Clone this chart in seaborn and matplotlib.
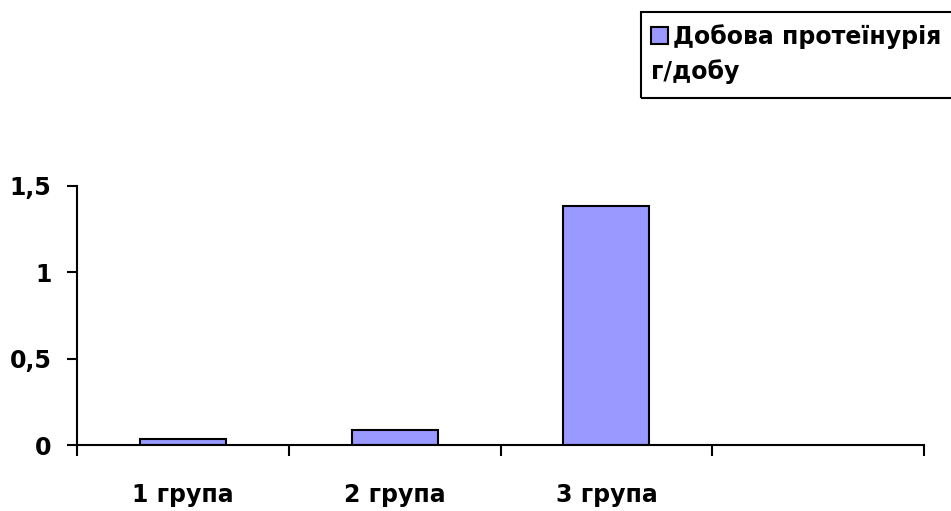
import matplotlib
matplotlib.use("Agg")
import matplotlib.pyplot as plt
from matplotlib.patches import Rectangle
import seaborn as sns
import pandas as pd

groups = ["1 група", "2 група", "3 група"]
proteinuria = [0.036, 0.087, 1.38]
series_first_line = "Добова протеїнурія"
series_second_line = "г/добу"
y_ticks = [0, 0.5, 1, 1.5]
y_tick_labels = ["0", "0,5", "1", "1,5"]

sns.set_theme(style="white")
plt.rcParams["font.family"] = ["DejaVu Sans"]
plt.rcParams["font.weight"] = "bold"
plt.rcParams["text.color"] = "black"
plt.rcParams["xtick.color"] = "black"
plt.rcParams["ytick.color"] = "black"

W, H = 951, 511
FS = 17

df = pd.DataFrame({"group": groups, "value": proteinuria,
                   "series": series_first_line})

fig = plt.figure(figsize=(W / 100, H / 100), dpi=100)
ax = fig.add_axes([77 / W, 1 - 445 / H, (924 - 77) / W, (445 - 185.7) / H])

sns.barplot(data=df, x="group", y="value", hue="series", order=groups,
            palette=["#9999FF"], saturation=1, edgecolor="black",
            linewidth=1.5, width=0.405, dodge=False, ax=ax, legend=True)

ax.set_xlim(-0.5, 3.5)
ax.set_ylim(0, 1.5)
ax.set_xlabel("")
ax.set_ylabel("")

# category labels centred in their slots, tick marks between slots
ax.set_xticks(range(len(groups)))
ax.set_xticklabels(groups, fontsize=FS, fontweight="bold", color="black")
ax.set_xticks([-0.5, 0.5, 1.5, 2.5, 3.5], minor=True)
ax.tick_params(axis="x", which="major", length=0, pad=27)
ax.tick_params(axis="x", which="minor", length=8, width=1.5,
               direction="out", color="black", bottom=True)

ax.set_yticks(y_ticks)
ax.set_yticklabels(y_tick_labels, fontsize=FS, fontweight="bold", color="black")
ax.tick_params(axis="y", length=7.5, width=1.5, direction="out",
               color="black", left=True, pad=11)

for side in ["top", "right"]:
    ax.spines[side].set_visible(False)
for side in ["left", "bottom"]:
    ax.spines[side].set_color("black")
    ax.spines[side].set_linewidth(1.5)

# legend: swatch and first line via the legend, wrapped second line below
handles, labels = ax.get_legend_handles_labels()
ax.get_legend().remove()
fs_px = FS * 100 / 72
leg = fig.legend(handles, labels, loc="upper left",
                 bbox_to_anchor=(651 / W, 1 - 24 / H),
                 fontsize=FS, frameon=False,
                 handlelength=17 / fs_px, handleheight=17 / fs_px,
                 handletextpad=5 / fs_px, borderpad=0,
                 borderaxespad=0)
for t in leg.get_texts():
    t.set_fontweight("bold")
    t.set_color("black")
for h in leg.legend_handles:
    h.set_linewidth(1.5)

fig.text(651 / W, 1 - 79 / H, series_second_line, fontsize=FS,
         fontweight="bold", ha="left", va="baseline", color="black")

fig.patches.append(Rectangle((641 / W, 1 - 98 / H), (W + 20 - 641) / W,
                             (98 - 12) / H, transform=fig.transFigure,
                             fill=False, edgecolor="black", linewidth=1.5,
                             clip_on=False))

fig.savefig("out.png", dpi=100, facecolor="white")
